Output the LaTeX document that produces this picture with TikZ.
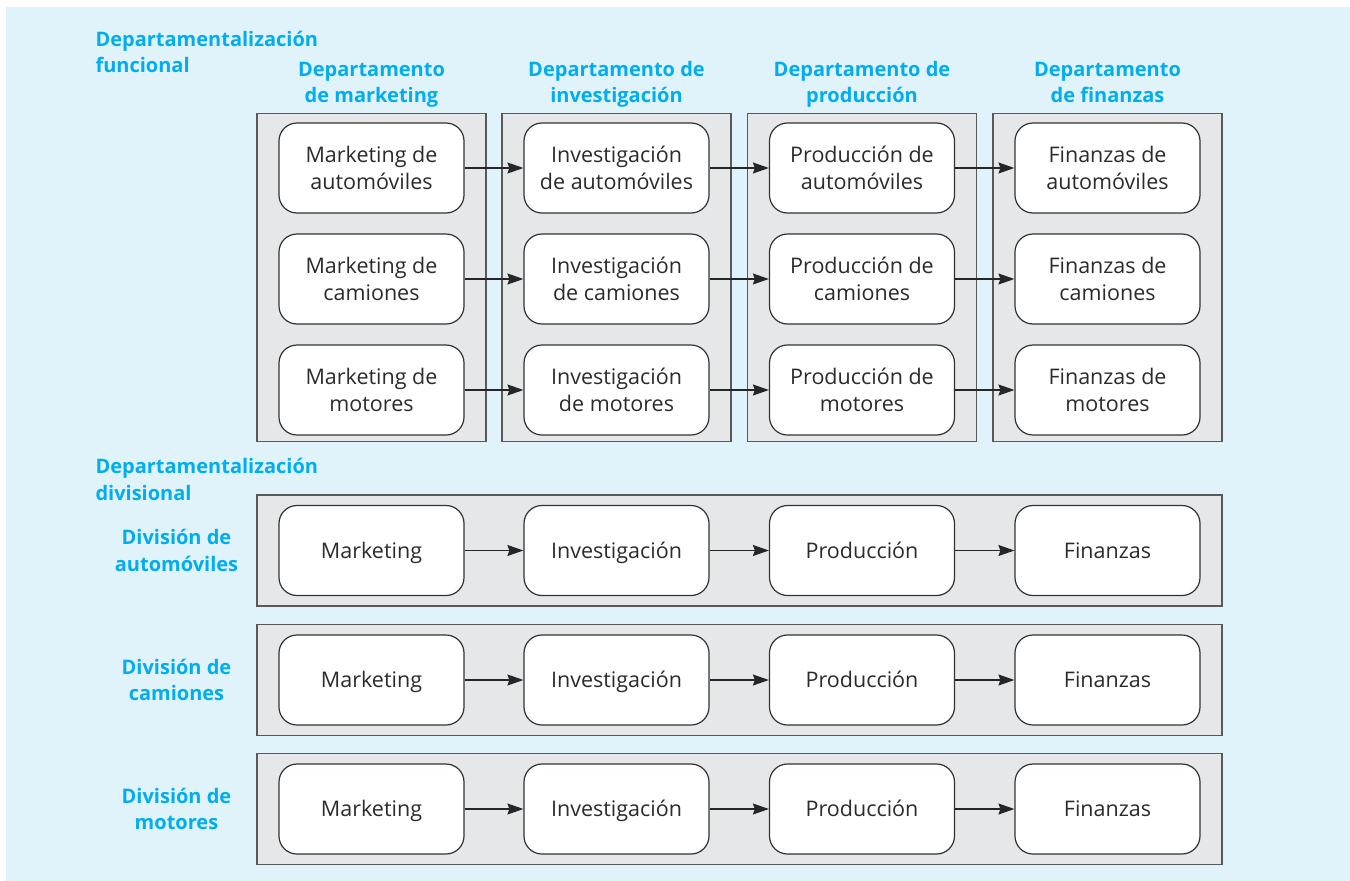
\documentclass[tikz,border=0pt]{standalone}
\usepackage{fontspec}
\setmainfont{Open Sans}
\usetikzlibrary{arrows.meta}
\definecolor{fondo}{HTML}{E0F3FB}
\definecolor{cian}{HTML}{00AEEF}
\definecolor{grisc}{HTML}{E6E7E8}
\definecolor{grisb}{HTML}{58595B}
\definecolor{texto}{HTML}{2B2B2B}

\begin{document}
\begin{tikzpicture}[x=1pt,y=-1pt,
  caja/.style={draw=grisb,fill=grisc,line width=1.4pt,inner sep=0pt},
  celda/.style={draw=black!80,fill=white,line width=1.2pt,rounded corners=18pt,
    minimum width=185pt,minimum height=90pt,inner sep=0pt,align=center,text=texto,
    font=\fontsize{21.5}{26.5}\selectfont},
  celdauna/.style={celda,text height=15pt,text depth=0pt},
  titulo/.style={text=cian,align=center,font=\fontsize{20}{26.5}\selectfont\bfseries},
  flecha/.style={-{Stealth[length=16pt,width=11pt,inset=2pt]},line width=1.1pt,draw=black!85}]
  \def\colA{371.5};
  \def\colB{616.5};
  \def\colC{862};
  \def\colD{1107.5};
  \def\filA{168};
  \def\filB{279};
  \def\filC{390};
  \def\divA{550.5};
  \def\divB{680};
  \def\divC{809};
  \useasboundingbox (0,0) rectangle (1350,881);
  \fill[fondo] (6,7) rectangle (1350,881);
  %
  \draw (92,72.5)	node[titulo,anchor=base west,align=left] (tfun) {Departamentalización\\funcional};
  \draw (\colA,102.5)	node[titulo,anchor=base] (tmk) {Departamento\\de marketing};
  \draw (\colB,102.5)	node[titulo,anchor=base] (tin) {Departamento de\\investigación};
  \draw (\colC,102.5)	node[titulo,anchor=base] (tpr) {Departamento de\\producción};
  \draw (\colD,102.5)	node[titulo,anchor=base] (tfi) {Departamento\\de finanzas};
  %
  \draw (\colA,277.5)	node[caja,minimum width=229pt,minimum height=328pt] (dmk) {};
  \draw (\colB,277.5)	node[caja,minimum width=229pt,minimum height=328pt] (din) {};
  \draw (\colC,277.5)	node[caja,minimum width=229pt,minimum height=328pt] (dpr) {};
  \draw (\colD,277.5)	node[caja,minimum width=229pt,minimum height=328pt] (dfi) {};
  %
  \draw (\colA,\filA)	node[celda] (mkA) {Marketing de\\automóviles};
  \draw (\colB,\filA)	node[celda] (inA) {Investigación\\de automóviles};
  \draw (\colC,\filA)	node[celda] (prA) {Producción de\\automóviles};
  \draw (\colD,\filA)	node[celda] (fiA) {Finanzas de\\automóviles};
  \draw (\colA,\filB)	node[celda] (mkB) {Marketing de\\camiones};
  \draw (\colB,\filB)	node[celda] (inB) {Investigación\\de camiones};
  \draw (\colC,\filB)	node[celda] (prB) {Producción de\\camiones};
  \draw (\colD,\filB)	node[celda] (fiB) {Finanzas de\\camiones};
  \draw (\colA,\filC)	node[celda] (mkC) {Marketing de\\motores};
  \draw (\colB,\filC)	node[celda] (inC) {Investigación\\de motores};
  \draw (\colC,\filC)	node[celda] (prC) {Producción de\\motores};
  \draw (\colD,\filC)	node[celda] (fiC) {Finanzas de\\motores};
  \draw[flecha] (mkA) -- (inA);
  \draw[flecha] (inA) -- (prA);
  \draw[flecha] (prA) -- (fiA);
  \draw[flecha] (mkB) -- (inB);
  \draw[flecha] (inB) -- (prB);
  \draw[flecha] (prB) -- (fiB);
  \draw[flecha] (mkC) -- (inC);
  \draw[flecha] (inC) -- (prC);
  \draw[flecha] (prC) -- (fiC);
  %
  \draw (92,500)	node[titulo,anchor=base west,align=left] (tdiv) {Departamentalización\\divisional};
  \draw (176.5,\divA)	node[titulo] (lauto) {División de\\automóviles};
  \draw (176.5,\divB)	node[titulo] (lcam) {División de\\camiones};
  \draw (176.5,\divC)	node[titulo] (lmot) {División de\\motores};
  \draw (739.5,\divA)	node[caja,minimum width=965pt,minimum height=111pt] (vauto) {};
  \draw (739.5,\divB)	node[caja,minimum width=965pt,minimum height=111pt] (vcam) {};
  \draw (739.5,\divC)	node[caja,minimum width=965pt,minimum height=111pt] (vmot) {};
  %
  \draw (\colA,\divA)	node[celdauna] (amk) {Marketing};
  \draw (\colB,\divA)	node[celdauna] (ain) {Investigación};
  \draw (\colC,\divA)	node[celdauna] (apr) {Producción};
  \draw (\colD,\divA)	node[celdauna] (afi) {Finanzas};
  \draw (\colA,\divB)	node[celdauna] (cmk) {Marketing};
  \draw (\colB,\divB)	node[celdauna] (cin) {Investigación};
  \draw (\colC,\divB)	node[celdauna] (cpr) {Producción};
  \draw (\colD,\divB)	node[celdauna] (cfi) {Finanzas};
  \draw (\colA,\divC)	node[celdauna] (mmk) {Marketing};
  \draw (\colB,\divC)	node[celdauna] (min) {Investigación};
  \draw (\colC,\divC)	node[celdauna] (mpr) {Producción};
  \draw (\colD,\divC)	node[celdauna] (mfi) {Finanzas};
  \draw[flecha] (amk) -- (ain);
  \draw[flecha] (ain) -- (apr);
  \draw[flecha] (apr) -- (afi);
  \draw[flecha] (cmk) -- (cin);
  \draw[flecha] (cin) -- (cpr);
  \draw[flecha] (cpr) -- (cfi);
  \draw[flecha] (mmk) -- (min);
  \draw[flecha] (min) -- (mpr);
  \draw[flecha] (mpr) -- (mfi);
 \end{tikzpicture}
\end{document}
